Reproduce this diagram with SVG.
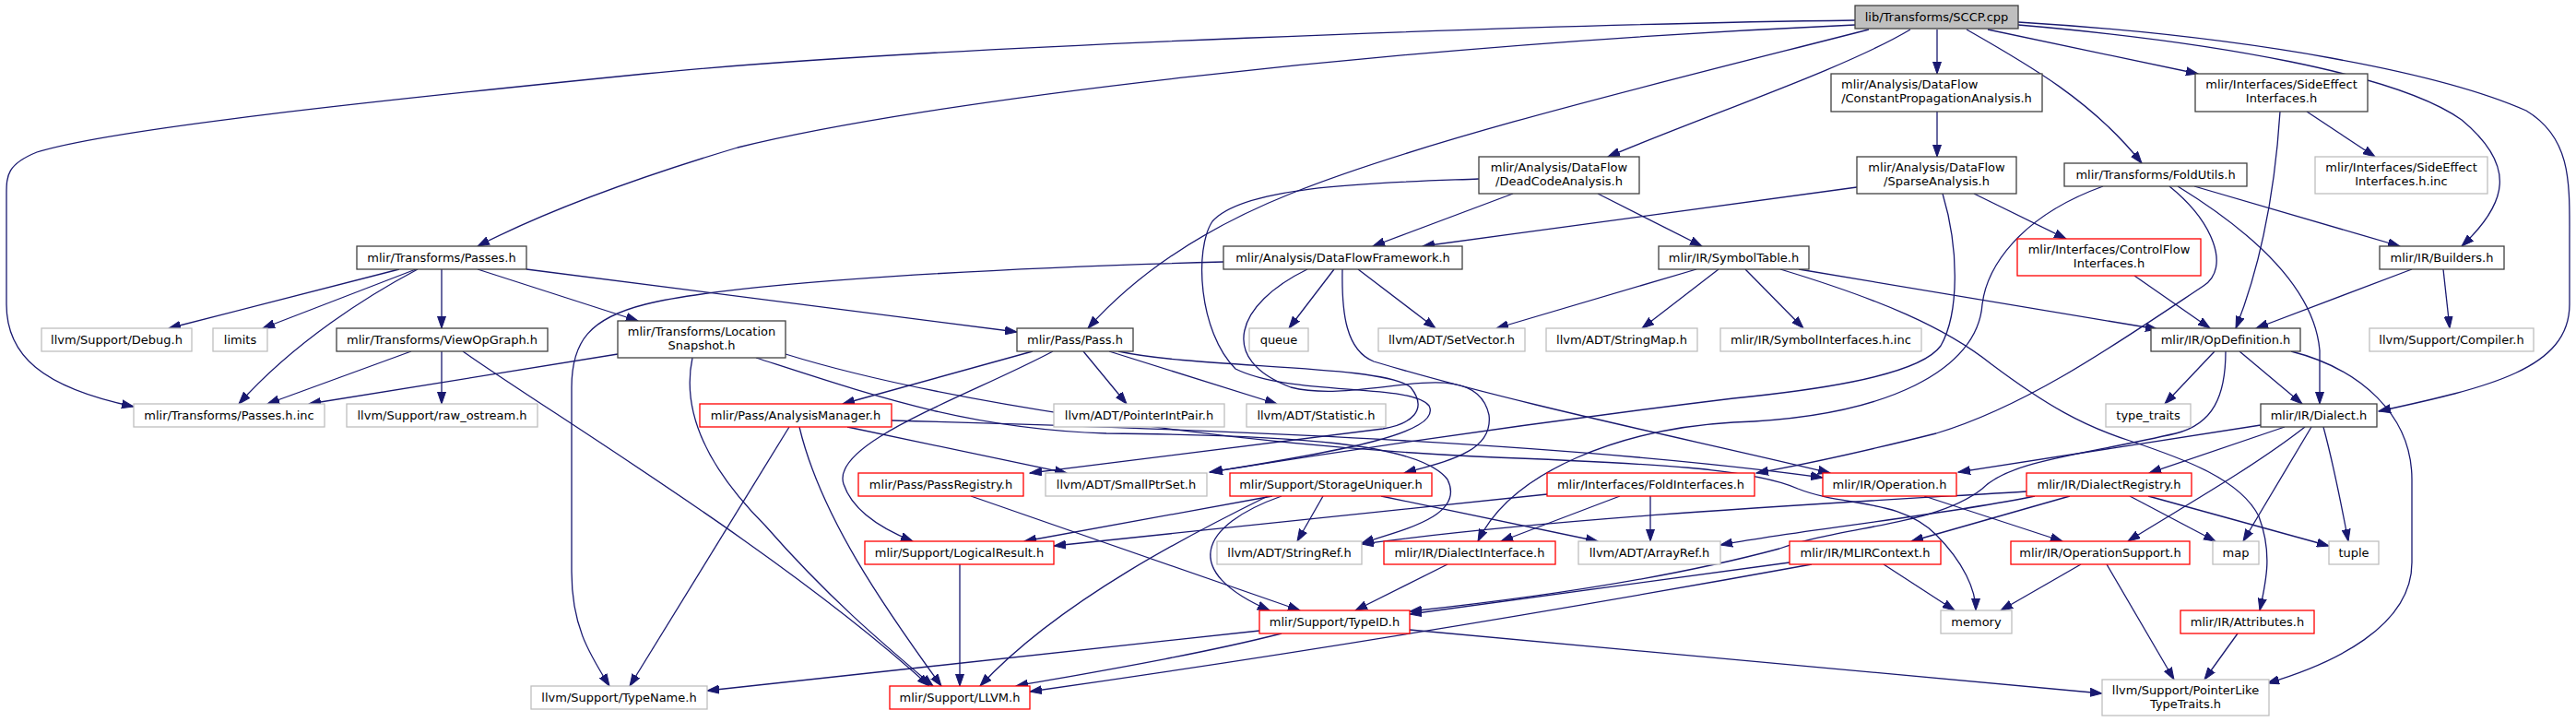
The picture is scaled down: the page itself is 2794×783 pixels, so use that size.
<svg xmlns="http://www.w3.org/2000/svg" width="2794" height="783" viewBox="0 0 2794 783">
<style>
rect{fill:#fff;stroke-width:1.3}
.k{stroke:#404040}
.g{stroke:#bfbfbf}
.r{stroke:#ff0000}
.root{fill:#bfbfbf;stroke:#404040}
text{font-family:"DejaVu Sans","Liberation Sans",sans-serif;font-size:13px;fill:#000;text-anchor:middle}
#edges path{fill:none;stroke:#191970;stroke-width:1.3;marker-end:url(#a)}
</style>
<defs>
<marker id="a" markerWidth="14" markerHeight="10" refX="13" refY="5" orient="auto" markerUnits="userSpaceOnUse"><path d="M0,0.5 L13,5 L0,9.5 z" fill="#191970" stroke="#191970" stroke-width="1"/></marker>
</defs>
<rect x="0" y="0" width="2794" height="783" style="fill:#fff;stroke:none"/>
<g id="edges">
<path d="M2012,22 C1700,26 1000,50 700,80 C400,110 120,140 40,165 C8,178 7,190 7,210 L7,330 C7,385 45,420 145,441"/>
<path d="M2012,27 C1500,50 1000,110 800,160 C700,190 600,225 518,267"/>
<path d="M2027,32 C1800,90 1550,150 1400,210 C1300,250 1230,300 1180,356"/>
<path d="M2072,32 C2000,75 1850,125 1744,170"/>
<path d="M2101,32 L2101,80"/>
<path d="M2133,32 C2200,70 2270,110 2323,177"/>
<path d="M2156,32 L2384,80"/>
<path d="M2189,27 C2400,45 2600,80 2670,130 C2730,180 2720,220 2670,267"/>
<path d="M2189,24 C2450,40 2650,80 2740,120 C2790,150 2787,200 2787,260 L2787,330 C2787,400 2700,420 2580,446"/>
<path d="M433,292 L183,356"/>
<path d="M451,292 L285,356"/>
<path d="M453,292 C400,320 320,370 259,438"/>
<path d="M479,292 L479,356"/>
<path d="M518,292 L692,348"/>
<path d="M571,292 L1103,360"/>
<path d="M446,381 L290,438"/>
<path d="M479,381 L479,438"/>
<path d="M502,381 C600,450 850,600 1008,744"/>
<path d="M670,384 L335,438"/>
<path d="M751,388 C740,440 760,500 830,570 C900,650 960,700 1012,744"/>
<path d="M820,388 C950,430 1050,465 1200,470 C1400,472 1540,480 1570,520 C1590,560 1520,575 1477,589"/>
<path d="M852,384 C1000,430 1300,480 1600,495 C1800,503 1900,508 1950,530 C2000,550 2060,540 2100,580 C2130,610 2143,640 2143,662"/>
<path d="M1120,381 L914,438"/>
<path d="M1142,381 C1050,430 900,480 915,525 C925,555 960,575 990,587"/>
<path d="M1175,381 L1222,438"/>
<path d="M1203,381 L1385,438"/>
<path d="M1213,381 C1300,400 1500,395 1530,420 C1550,445 1530,460 1500,465 L1117,513"/>
<path d="M967,456 C1300,465 1700,480 1977,518"/>
<path d="M919,463 L1157,513"/>
<path d="M856,463 L683,744"/>
<path d="M867,463 C890,560 960,660 1021,744"/>
<path d="M1053,538 L1410,662"/>
<path d="M1041,612 L1041,744"/>
<path d="M1380,538 L1111,587"/>
<path d="M1390,538 C1300,570 1280,620 1377,662"/>
<path d="M1375,538 C1300,575 1150,650 1063,744"/>
<path d="M1435,538 L1407,587"/>
<path d="M1498,538 L1733,587"/>
<path d="M1366,684 L767,749"/>
<path d="M1390,687 C1300,710 1180,730 1102,744"/>
<path d="M1529,683 L2280,752"/>
<path d="M1570,612 L1470,662"/>
<path d="M1757,538 L1628,587"/>
<path d="M1790,538 L1790,587"/>
<path d="M1678,536 L1143,592"/>
<path d="M2087,538 L2237,587"/>
<path d="M2257,612 L2170,662"/>
<path d="M2285,612 L2358,737"/>
<path d="M1941,610 L1529,666"/>
<path d="M1965,612 C1700,660 1400,710 1117,750"/>
<path d="M2043,612 L2120,662"/>
<path d="M2427,687 L2391,737"/>
<path d="M2245,538 L2073,587"/>
<path d="M2310,538 L2403,587"/>
<path d="M2330,538 L2526,592"/>
<path d="M2198,533 C2000,545 1700,560 1477,590"/>
<path d="M2207,538 C2100,560 1950,575 1866,591"/>
<path d="M2452,461 L2124,512"/>
<path d="M2478,463 L2331,513"/>
<path d="M2500,463 C2440,510 2350,560 2308,587"/>
<path d="M2507,463 L2433,587"/>
<path d="M2520,463 C2530,500 2540,550 2547,587"/>
<path d="M2402,381 L2348,438"/>
<path d="M2429,381 L2497,438"/>
<path d="M2414,381 C2414,430 2400,460 2360,470 C2250,495 2180,500 2150,530 C2100,570 2000,570 1930,595 C1800,630 1650,650 1529,663"/>
<path d="M2485,381 C2560,400 2616,450 2616,520 L2616,610 C2616,680 2530,720 2459,741"/>
<path d="M2315,299 L2397,356"/>
<path d="M2473,121 C2468,200 2455,280 2425,356"/>
<path d="M2502,121 L2576,170"/>
<path d="M2616,292 L2447,356"/>
<path d="M2650,292 L2657,356"/>
<path d="M2380,202 L2603,267"/>
<path d="M2362,202 C2440,250 2510,310 2516,380 L2516,438"/>
<path d="M2353,202 C2400,240 2420,290 2390,310 C2300,370 2200,440 2100,470 C2020,490 1950,505 1905,513"/>
<path d="M2281,202 C2190,235 2155,290 2150,330 C2145,400 2050,452 1880,458 C1760,465 1640,510 1603,587"/>
<path d="M2014,203 L1543,267"/>
<path d="M2141,210 L2241,259"/>
<path d="M2107,210 C2125,270 2125,340 2105,375 C2080,410 1950,425 1880,432 C1650,460 1450,490 1312,512"/>
<path d="M2101,121 L2101,170"/>
<path d="M1641,210 L1489,267"/>
<path d="M1733,210 L1846,267"/>
<path d="M1604,194 C1500,198 1350,200 1315,240 C1295,270 1300,360 1340,400 C1400,430 1530,415 1550,440 C1565,470 1450,490 1313,512"/>
<path d="M1327,284 C1100,290 800,305 700,330 C640,345 620,370 620,420 L620,620 C620,680 640,710 661,744"/>
<path d="M1447,292 L1398,356"/>
<path d="M1473,292 L1557,356"/>
<path d="M1456,292 C1455,340 1460,380 1490,392 C1650,440 1850,480 1985,513"/>
<path d="M1418,292 C1340,330 1320,390 1400,420 C1480,440 1600,380 1615,450 C1620,490 1570,500 1523,513"/>
<path d="M1840,292 L1623,356"/>
<path d="M1864,292 L1781,356"/>
<path d="M1893,292 L1956,356"/>
<path d="M1931,292 C2040,325 2110,355 2160,395 C2220,440 2260,462 2310,478 C2370,498 2430,520 2450,560 C2465,600 2458,630 2451,662"/>
<path d="M1951,292 L2340,357"/>
</g>
<g id="sccp"><rect class="root" x="2012" y="6" width="177" height="25"/><text x="2100.5" y="23">lib/Transforms/SCCP.cpp</text></g>
<g id="passes_inc"><rect class="g" x="145" y="438" width="207" height="25"/><text x="248.5" y="455">mlir/Transforms/Passes.h.inc</text></g>
<g id="passes_h"><rect class="k" x="387" y="267" width="184" height="25"/><text x="479" y="284">mlir/Transforms/Passes.h</text></g>
<g id="pass_h"><rect class="k" x="1103" y="356" width="126" height="25"/><text x="1166" y="373">mlir/Pass/Pass.h</text></g>
<g id="deadcode"><rect class="k" x="1604" y="170" width="174" height="40"/><text x="1691" y="186">mlir/Analysis/DataFlow</text><text x="1691" y="201">/DeadCodeAnalysis.h</text></g>
<g id="constprop"><rect class="k" x="1986" y="80" width="229" height="41"/><text x="1997" y="96" style="text-anchor:start">mlir/Analysis/DataFlow</text><text x="2100.5" y="111">/ConstantPropagationAnalysis.h</text></g>
<g id="foldutils"><rect class="k" x="2239" y="177" width="198" height="25"/><text x="2338" y="194">mlir/Transforms/FoldUtils.h</text></g>
<g id="sideeffect"><rect class="k" x="2381" y="80" width="187" height="41"/><text x="2474.5" y="96">mlir/Interfaces/SideEffect</text><text x="2474.5" y="111">Interfaces.h</text></g>
<g id="builders"><rect class="k" x="2581" y="267" width="135" height="25"/><text x="2648.5" y="284">mlir/IR/Builders.h</text></g>
<g id="dialect"><rect class="k" x="2452" y="438" width="126" height="25"/><text x="2515" y="455">mlir/IR/Dialect.h</text></g>
<g id="debug"><rect class="g" x="45" y="356" width="163" height="25"/><text x="126.5" y="373">llvm/Support/Debug.h</text></g>
<g id="limits"><rect class="g" x="231" y="356" width="59" height="25"/><text x="260.5" y="373">limits</text></g>
<g id="viewopgraph"><rect class="k" x="365" y="356" width="229" height="25"/><text x="479.5" y="373">mlir/Transforms/ViewOpGraph.h</text></g>
<g id="locsnap"><rect class="k" x="670" y="348" width="182" height="40"/><text x="761" y="364">mlir/Transforms/Location</text><text x="761" y="379">Snapshot.h</text></g>
<g id="rawostream"><rect class="g" x="376" y="438" width="207" height="25"/><text x="479.5" y="455">llvm/Support/raw_ostream.h</text></g>
<g id="typename"><rect class="g" x="576" y="744" width="191" height="25"/><text x="671.5" y="761">llvm/Support/TypeName.h</text></g>
<g id="llvm_h"><rect class="r" x="965" y="744" width="152" height="25"/><text x="1041" y="761">mlir/Support/LLVM.h</text></g>
<g id="stringref"><rect class="g" x="1320" y="587" width="157" height="25"/><text x="1398.5" y="604">llvm/ADT/StringRef.h</text></g>
<g id="memory"><rect class="g" x="2105" y="662" width="77" height="25"/><text x="2143.5" y="679">memory</text></g>
<g id="analysismgr"><rect class="r" x="759" y="438" width="208" height="25"/><text x="863" y="455">mlir/Pass/AnalysisManager.h</text></g>
<g id="passregistry"><rect class="r" x="931" y="513" width="179" height="25"/><text x="1020.5" y="530">mlir/Pass/PassRegistry.h</text></g>
<g id="logicalresult"><rect class="r" x="938" y="587" width="205" height="25"/><text x="1040.5" y="604">mlir/Support/LogicalResult.h</text></g>
<g id="pointerintpair"><rect class="g" x="1143" y="438" width="185" height="25"/><text x="1235.5" y="455">llvm/ADT/PointerIntPair.h</text></g>
<g id="statistic"><rect class="g" x="1352" y="438" width="151" height="25"/><text x="1427.5" y="455">llvm/ADT/Statistic.h</text></g>
<g id="operation"><rect class="r" x="1977" y="513" width="145" height="25"/><text x="2049.5" y="530">mlir/IR/Operation.h</text></g>
<g id="smallptrset"><rect class="g" x="1134" y="513" width="175" height="25"/><text x="1221.5" y="530">llvm/ADT/SmallPtrSet.h</text></g>
<g id="typeid"><rect class="r" x="1366" y="662" width="163" height="25"/><text x="1447.5" y="679">mlir/Support/TypeID.h</text></g>
<g id="storageuniquer"><rect class="r" x="1334" y="513" width="219" height="25"/><text x="1443.5" y="530">mlir/Support/StorageUniquer.h</text></g>
<g id="arrayref"><rect class="g" x="1712" y="587" width="154" height="25"/><text x="1789" y="604">llvm/ADT/ArrayRef.h</text></g>
<g id="dataflowframework"><rect class="k" x="1327" y="267" width="259" height="25"/><text x="1456.5" y="284">mlir/Analysis/DataFlowFramework.h</text></g>
<g id="symboltable"><rect class="k" x="1799" y="267" width="163" height="25"/><text x="1880.5" y="284">mlir/IR/SymbolTable.h</text></g>
<g id="queue"><rect class="g" x="1355" y="356" width="64" height="25"/><text x="1387" y="373">queue</text></g>
<g id="setvector"><rect class="g" x="1495" y="356" width="159" height="25"/><text x="1574.5" y="373">llvm/ADT/SetVector.h</text></g>
<g id="stringmap"><rect class="g" x="1677" y="356" width="164" height="25"/><text x="1759" y="373">llvm/ADT/StringMap.h</text></g>
<g id="symifaceinc"><rect class="g" x="1866" y="356" width="218" height="25"/><text x="1975" y="373">mlir/IR/SymbolInterfaces.h.inc</text></g>
<g id="opdefinition"><rect class="k" x="2333" y="356" width="162" height="25"/><text x="2414" y="373">mlir/IR/OpDefinition.h</text></g>
<g id="attributes"><rect class="r" x="2365" y="662" width="145" height="25"/><text x="2437.5" y="679">mlir/IR/Attributes.h</text></g>
<g id="sparse"><rect class="k" x="2014" y="170" width="173" height="40"/><text x="2100.5" y="186">mlir/Analysis/DataFlow</text><text x="2100.5" y="201">/SparseAnalysis.h</text></g>
<g id="controlflow"><rect class="r" x="2188" y="259" width="199" height="40"/><text x="2287.5" y="275">mlir/Interfaces/ControlFlow</text><text x="2287.5" y="290">Interfaces.h</text></g>
<g id="typetraits"><rect class="g" x="2284" y="438" width="92" height="25"/><text x="2330" y="455">type_traits</text></g>
<g id="dialectregistry"><rect class="r" x="2198" y="513" width="179" height="25"/><text x="2287.5" y="530">mlir/IR/DialectRegistry.h</text></g>
<g id="opsupport"><rect class="r" x="2181" y="587" width="194" height="25"/><text x="2278" y="604">mlir/IR/OperationSupport.h</text></g>
<g id="map"><rect class="g" x="2400" y="587" width="50" height="25"/><text x="2425" y="604">map</text></g>
<g id="tuple"><rect class="g" x="2526" y="587" width="54" height="25"/><text x="2553" y="604">tuple</text></g>
<g id="mlircontext"><rect class="r" x="1941" y="587" width="164" height="25"/><text x="2023" y="604">mlir/IR/MLIRContext.h</text></g>
<g id="dialectiface"><rect class="r" x="1501" y="587" width="186" height="25"/><text x="1594" y="604">mlir/IR/DialectInterface.h</text></g>
<g id="foldiface"><rect class="r" x="1678" y="513" width="225" height="25"/><text x="1790.5" y="530">mlir/Interfaces/FoldInterfaces.h</text></g>
<g id="pointerlike"><rect class="g" x="2280" y="737" width="181" height="39"/><text x="2370.5" y="753">llvm/Support/PointerLike</text><text x="2370.5" y="768">TypeTraits.h</text></g>
<g id="sideeffectinc"><rect class="g" x="2511" y="170" width="187" height="40"/><text x="2604.5" y="186">mlir/Interfaces/SideEffect</text><text x="2604.5" y="201">Interfaces.h.inc</text></g>
<g id="compiler"><rect class="g" x="2570" y="356" width="178" height="25"/><text x="2659" y="373">llvm/Support/Compiler.h</text></g>
</svg>
